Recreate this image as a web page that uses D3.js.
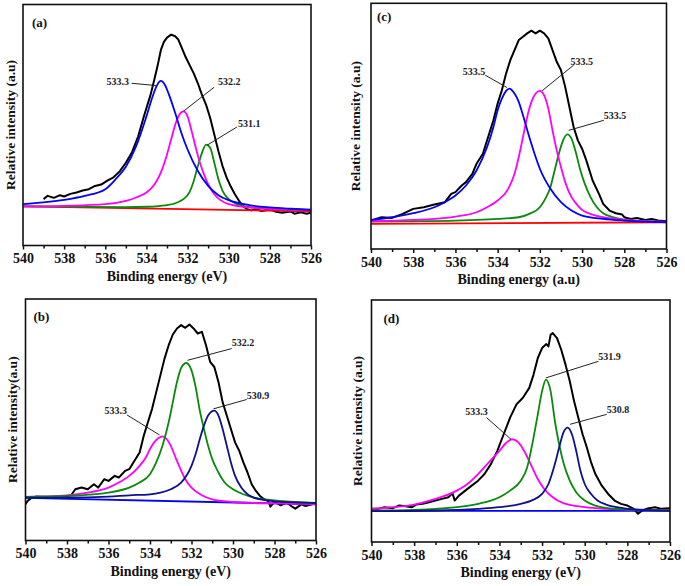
<!DOCTYPE html>
<html><head><meta charset="utf-8">
<script src="https://cdn.jsdelivr.net/npm/d3@7"></script>
<style>body{margin:0;background:#fff}svg{display:block}</style>
</head><body>
<svg id="c" width="685" height="586"></svg>
<script>
// ---------- DATA ----------
const energyTicks = [540,538,536,534,532,530,528,526];
const minorTicks  = [539,537,535,533,531,529,527];

// Panel (a)
const aRaw = [[539.0,140],[538.8,150],[538.5,144],[538.2,152],[538.0,148],[537.7,156],[537.4,160],[537.1,166],[536.8,170],[536.5,180],[536.2,184],[535.9,196],[535.6,206],[535.3,224],[535.0,250],[534.7,282],[534.4,330],[534.1,395],[533.8,455],[533.6,505],[533.45,545],[533.3,590],[533.15,615],[533.0,628],[532.8,637],[532.6,632],[532.45,622],[532.3,600],[532.1,570],[531.9,545],[531.7,520],[531.5,490],[531.3,455],[531.1,425],[530.9,385],[530.7,335],[530.5,285],[530.3,240],[530.1,205],[529.9,178],[529.7,155],[529.5,135],[529.3,118],[529.1,110],[528.9,106],[528.7,110],[528.4,104],[528.0,109],[527.7,102],[527.4,99],[527.0,103],[526.8,96],[526.5,100],[526.2,96],[526.0,100]];
const aBlue = [[540,125],[539,130],[538,138],[537,150],[536,170],[535.5,200],[535,238],[534.5,300],[534,390],[533.7,450],[533.5,482],[533.3,497],[533.1,485],[532.9,455],[532.6,400],[532.3,340],[532,290],[531.5,225],[531,180],[530.5,152],[530,137],[529,122],[528,115],[527,111],[526,108]];
const aMagenta = [[540,118],[538,120],[536,125],[535,135],[534.5,145],[534,160],[533.6,185],[533.3,220],[533,275],[532.8,320],[532.6,365],[532.4,395],[532.2,405],[532,390],[531.8,345],[531.6,295],[531.4,250],[531.2,215],[531,185],[530.7,155],[530.4,137],[530,125],[529,115],[528,111],[526,107]];
const aGreen = [[540,118],[537,117],[535,116],[534,117],[533,122],[532.5,130],[532.2,140],[531.9,162],[531.7,195],[531.5,240],[531.3,280],[531.1,305],[530.9,295],[530.7,250],[530.5,200],[530.3,165],[530,140],[529.7,128],[529,116],[528,111],[526,107]];
const aBase = [[540,118],[526,103]];
const aNotes = [
  {t:"533.3", tx:534.85, ty:495, anchor:"end",   x1:534.72, y1:490, x2:533.5,  y2:483},
  {t:"532.2", tx:530.52, ty:495, anchor:"start", x1:530.71, y1:478, x2:532.21, y2:405},
  {t:"531.1", tx:529.55, ty:370, anchor:"start", x1:529.6,  y1:358, x2:531.05, y2:303}
];

// Panel (c)
const cRaw = [[540,85],[539.5,95],[539,93],[538.5,105],[538,120],[537.5,125],[537,133],[536.5,140],[536.2,165],[536,170],[535.7,190],[535.5,200],[535.2,225],[535,255],[534.7,285],[534.5,325],[534.2,385],[534,435],[533.8,475],[533.6,525],[533.4,565],[533.2,595],[533,625],[532.8,635],[532.6,645],[532.4,653],[532.2,645],[532,653],[531.8,645],[531.6,630],[531.4,595],[531.2,560],[531,535],[530.8,485],[530.6,425],[530.4,365],[530.2,325],[530,300],[529.8,265],[529.5,205],[529.2,165],[529,135],[528.7,115],[528.4,107],[528.1,103],[528,95],[527.7,90],[527.4,93],[527,87],[526.7,90],[526.4,85],[526,83]];
const cBlue = [[540,87],[539,95],[538,107],[537,125],[536.5,140],[536,160],[535.5,190],[535,235],[534.5,305],[534.2,365],[534,415],[533.8,450],[533.6,473],[533.45,480],[533.2,465],[533,440],[532.8,400],[532.5,335],[532.2,275],[532,240],[531.5,180],[531,140],[530.5,115],[530,100],[529,90],[528,85],[527,82],[526,80]];
const cMagenta = [[540,83],[538,87],[537,90],[536,97],[535,110],[534.5,125],[534,145],[533.5,180],[533.2,225],[533,275],[532.8,335],[532.6,395],[532.4,440],[532.2,465],[532,473],[531.8,460],[531.6,420],[531.4,355],[531.2,295],[531,245],[530.8,200],[530.5,155],[530.2,130],[530,117],[529.5,103],[529,95],[528,87],[527,83],[526,81]];
const cGreen = [[540,82],[538,83],[536,85],[535,87],[534,90],[533,95],[532.5,105],[532,125],[531.7,155],[531.5,185],[531.3,235],[531.1,285],[530.9,325],[530.7,343],[530.5,330],[530.3,290],[530.1,240],[529.9,200],[529.6,155],[529.3,125],[529,107],[528.5,95],[528,88],[527,83],[526,81]];
const cBase = [[540,75],[526,80]];
const cNotes = [
  {t:"533.5", tx:534.59, ty:530, anchor:"end",   x1:534.59, y1:520, x2:533.56, y2:483},
  {t:"533.5", tx:530.55, ty:562, anchor:"start", x1:530.40, y1:550, x2:531.90, y2:473},
  {t:"533.5", tx:528.97, ty:400, anchor:"start", x1:528.97, y1:385, x2:530.63, y2:355}
];

// Panel (b)
const bRaw = [[540,108],[539.9,118],[539.7,128],[539.5,131],[539,130],[538.5,130],[538,133],[537.8,135],[537.6,153],[537.3,158],[537,153],[536.7,168],[536.5,158],[536.2,183],[536,178],[535.7,193],[535.5,188],[535.2,208],[535,213],[534.8,233],[534.5,263],[534.3,313],[534.1,353],[533.9,393],[533.7,443],[533.5,493],[533.3,543],[533.1,583],[532.9,615],[532.7,633],[532.5,643],[532.3,635],[532.1,645],[531.9,633],[531.7,618],[531.5,623],[531.3,583],[531.1,533],[530.9,518],[530.7,473],[530.5,413],[530.3,373],[530.1,333],[529.9,293],[529.7,268],[529.5,233],[529.3,203],[529.1,168],[528.9,148],[528.7,133],[528.5,123],[528.3,118],[528.2,101],[528,115],[527.7,105],[527.4,113],[527.2,103],[527,95],[526.7,108],[526.5,103],[526.2,108],[526,113]];
const bMagenta = [[540,130],[538,135],[537,143],[536,158],[535.5,173],[535,193],[534.5,223],[534.2,248],[534,273],[533.8,293],[533.6,305],[533.4,311],[533.2,303],[533,283],[532.8,253],[532.6,223],[532.3,183],[532,158],[531.5,135],[531,123],[530,115],[529,112],[528,111],[526,109]];
const bGreen = [[540,130],[538,133],[536,143],[535,158],[534.5,173],[534,198],[533.7,233],[533.4,283],[533.1,353],[532.9,413],[532.7,473],[532.5,515],[532.25,530],[532,508],[531.8,458],[531.6,388],[531.4,333],[531.2,283],[531,243],[530.7,203],[530.4,173],[530,153],[529.5,138],[529,128],[528,120],[527,115],[526,112]];
const bNavy = [[540,128],[538,128],[536,131],[535,135],[534,138],[533.5,143],[533,153],[532.5,173],[532.2,198],[532,223],[531.8,258],[531.6,303],[531.4,343],[531.2,373],[530.9,388],[530.7,373],[530.5,333],[530.3,283],[530.1,233],[529.9,193],[529.6,158],[529.3,138],[529,128],[528.5,121],[528,117],[527,114],[526,112]];
const bBase = [[540,127],[526,108]];
const bNotes = [
  {t:"533.3", tx:535.11, ty:388, anchor:"end",   x1:535.11, y1:375, x2:533.54, y2:315},
  {t:"532.2", tx:530.06, ty:590, anchor:"start", x1:530.06, y1:573, x2:532.19, y2:538},
  {t:"530.9", tx:529.34, ty:433, anchor:"start", x1:529.34, y1:421, x2:530.94, y2:393}
];

// Panel (d)
const dRaw = [[540,100],[539.7,100],[539.4,105],[539,102],[538.7,110],[538.4,108],[538.1,105],[537.9,113],[537.6,115],[537.3,120],[537,125],[536.7,130],[536.4,135],[536.2,147],[536.1,125],[535.9,140],[535.6,155],[535.3,170],[535,185],[534.7,205],[534.4,235],[534.1,275],[533.8,325],[533.5,375],[533.2,415],[532.9,435],[532.6,465],[532.4,505],[532.2,555],[532,585],[531.8,597],[531.7,590],[531.6,625],[531.5,630],[531.3,615],[531.1,580],[530.9,535],[530.7,485],[530.5,425],[530.3,375],[530.1,325],[529.9,285],[529.7,240],[529.5,205],[529.2,170],[528.9,145],[528.6,125],[528.3,115],[528,110],[527.7,100],[527.5,85],[527.3,95],[527,102],[526.7,105],[526.4,100],[526,102]];
const dMagenta = [[540,100],[539,105],[538,113],[537,130],[536,155],[535.5,175],[535,205],[534.5,240],[534,275],[533.7,298],[533.4,310],[533.1,300],[532.8,270],[532.5,230],[532.2,190],[531.9,160],[531.5,135],[531,117],[530,105],[529,100],[528,98],[526,96]];
const dGreen = [[540,95],[538,97],[536,105],[535,115],[534,135],[533.5,155],[533,185],[532.7,225],[532.4,315],[532.2,385],[532,455],[531.82,490],[531.6,455],[531.4,365],[531.2,295],[531,240],[530.7,185],[530.4,150],[530,125],[529.5,110],[529,103],[528,98],[526,95]];
const dNavy = [[540,93],[537,95],[535,100],[534,105],[533,115],[532.5,125],[532,145],[531.7,175],[531.4,235],[531.2,285],[531,330],[530.8,345],[530.6,325],[530.4,275],[530.2,215],[530,175],[529.7,145],[529.4,125],[529,113],[528.5,105],[528,100],[527,96],[526,94]];
const dBase = [[540,94],[526,94]];
const dNotes = [
  {t:"533.3", tx:534.55, ty:393, anchor:"end",   x1:534.60, y1:375, x2:533.46, y2:310},
  {t:"531.9", tx:529.36, ty:560, anchor:"start", x1:529.36, y1:545, x2:531.82, y2:495},
  {t:"530.8", tx:528.97, ty:400, anchor:"start", x1:528.97, y1:385, x2:530.69, y2:355}
];

// ---------- LAYOUT / STYLE ----------
const C = {blue:"#0000ff", magenta:"#ff00ff", green:"#0a8a0a", red:"#ff0000", navy:"#10108c", black:"#000"};
const panels = [
  {lab:"(a)", box:{l:23,r:311,t:4.5,b:245.5}, ymax:728, labOff:[9,22], xt:"Binding energy (eV)", yt:"Relative intensity (a.u)", ytx:10,
   curves:[[aBase,C.red],[aGreen,C.green],[aMagenta,C.magenta],[aBlue,C.blue]], raw:aRaw, notes:aNotes},
  {lab:"(c)", box:{l:371,r:666.5,t:3.3,b:249}, ymax:735, labOff:[6,18], xt:"Binding energy (a.u)", yt:"Relative intensity (a.u)", ytx:355,
   curves:[[cBase,C.red],[cGreen,C.green],[cMagenta,C.magenta],[cBlue,C.blue]], raw:cRaw, notes:cNotes},
  {lab:"(b)", box:{l:25.5,r:316,t:299,b:540.5}, ymax:721, labOff:[8,22], xt:"Binding energy (eV)", yt:"Relative intensity(a.u)", ytx:12,
   curves:[[bBase,C.blue],[bMagenta,C.magenta],[bGreen,C.green],[bNavy,C.navy]], raw:bRaw, notes:bNotes},
  {lab:"(d)", box:{l:371.5,r:670,t:300,b:542}, ymax:730, labOff:[12,23], xt:"Binding energy (eV)", yt:"Relative intensity (a.u)", ytx:357,
   curves:[[dBase,C.blue],[dMagenta,C.magenta],[dGreen,C.green],[dNavy,C.navy]], raw:dRaw, notes:dNotes}
];

const svg = d3.select("#c");
const FONT = "'Liberation Serif','Times New Roman',serif";

panels.forEach((p,i)=>{
  const b = p.box;
  const x = d3.scaleLinear().domain([540,526]).range([b.l,b.r]);
  const y = d3.scaleLinear().domain([0,p.ymax]).range([b.b,b.t]);
  const g = svg.append("g");
  const cid = "clip"+i;
  g.append("clipPath").attr("id",cid).append("rect")
    .attr("x",b.l).attr("y",b.t).attr("width",b.r-b.l).attr("height",b.b-b.t);

  const smooth = d3.line().x(d=>x(d[0])).y(d=>y(d[1])).curve(d3.curveMonotoneX);
  const lin = d3.line().x(d=>x(d[0])).y(d=>y(d[1]));
  const cg = g.append("g").attr("clip-path",`url(#${cid})`);

  cg.append("path").datum(p.raw.slice().sort((a,b)=>a[0]-b[0]))
    .attr("d",lin).attr("fill","none").attr("stroke",C.black).attr("stroke-width",2).attr("stroke-linejoin","round");
  p.curves.forEach(([data,col])=>{
    cg.append("path").datum(data.slice().sort((a,b)=>a[0]-b[0]))
      .attr("d", data.length>2? smooth : lin)
      .attr("fill","none").attr("stroke",col).attr("stroke-width",1.8);
  });

  // frame
  g.append("rect").attr("x",b.l).attr("y",b.t).attr("width",b.r-b.l).attr("height",b.b-b.t)
    .attr("fill","none").attr("stroke","#111").attr("stroke-width",1.6);

  // x axis
  const ax = d3.axisBottom(x).tickValues(energyTicks).tickSize(4).tickPadding(4).tickFormat(d3.format("d"));
  const axg = g.append("g").attr("transform",`translate(0,${b.b})`).call(ax);
  axg.select(".domain").remove();
  axg.selectAll(".tick line").attr("stroke","#111").attr("stroke-width",1.5);
  axg.selectAll("text").attr("font-family",FONT).attr("font-weight","bold").attr("font-size",14).attr("fill","#111");
  const axm = d3.axisBottom(x).tickValues(minorTicks).tickSize(3).tickFormat("");
  const amg = g.append("g").attr("transform",`translate(0,${b.b})`).call(axm);
  amg.select(".domain").remove();
  amg.selectAll(".tick line").attr("stroke","#111").attr("stroke-width",1.5);

  // titles
  g.append("text").attr("x",(b.l+b.r)/2).attr("y",b.b+35).attr("text-anchor","middle")
    .attr("font-family",FONT).attr("font-weight","bold").attr("font-size",14).attr("fill","#111").text(p.xt);
  g.append("text").attr("transform",`translate(${p.ytx},${(b.t+b.b)/2}) rotate(-90)`)
    .attr("text-anchor","middle").attr("dominant-baseline","central")
    .attr("font-family",FONT).attr("font-weight","bold").attr("font-size",13.5).attr("fill","#111").text(p.yt);
  g.append("text").attr("x",b.l+p.labOff[0]).attr("y",b.t+p.labOff[1])
    .attr("font-family",FONT).attr("font-weight","bold").attr("font-size",13).attr("fill","#111").text(p.lab);

  // annotations
  p.notes.forEach(n=>{
    g.append("line").attr("x1",x(n.x1)).attr("y1",y(n.y1)).attr("x2",x(n.x2)).attr("y2",y(n.y2))
      .attr("stroke","#222").attr("stroke-width",1);
    g.append("text").attr("x",x(n.tx)).attr("y",y(n.ty)).attr("text-anchor",n.anchor)
      .attr("dominant-baseline","central")
      .attr("font-family",FONT).attr("font-weight","bold").attr("font-size",10).attr("fill","#222").text(n.t);
  });
});
</script>
</body></html>
